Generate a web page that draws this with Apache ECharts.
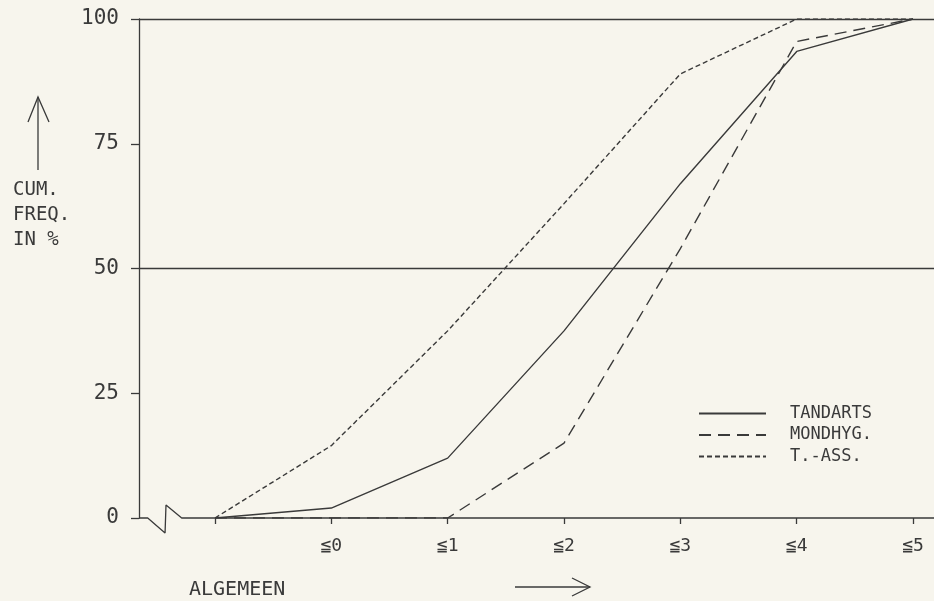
<!DOCTYPE html>
<html>
<head>
<meta charset="utf-8">
<script src="https://cdn.jsdelivr.net/npm/echarts@6/dist/echarts.min.js"></script>
<style>
html,body{margin:0;padding:0;background:#f7f5ed;}
#chart{width:934px;height:601px;}
</style>
</head>
<body>
<div id="chart"></div>
<script>
// Data
const xPositions = [-1, 0, 1, 2, 3, 4, 5];
const tickLabelValues = [0, 1, 2, 3, 4, 5];
const yTicks = [0, 25, 50, 75, 100];
const seriesNames = ['TANDARTS', 'MONDHYG.', 'T.-ASS.'];
const tandarts = [0, 2, 12, 37.5, 67, 93.5, 100];
const mondhyg = [0, 0, 0, 15, 54, 95.5, 100];
const tass = [0, 14.5, 37.5, 63, 89, 100, 100];
// axis break decoration (data units)
const breakX = [-1.653, -1.578, -1.429, -1.421, -1.286, 5.18];
const breakY = [0, 0, -3, 2.6, 0, 0];

const ink = '#3a3a3a';
const font = "'DejaVu Sans Mono', monospace";
const chart = echarts.init(document.getElementById('chart'));

function pairs(xs, ys) { return xs.map((x, i) => [x, ys[i]]); }

const lineBase = (name, data, type) => ({
  name, type: 'line', data: pairs(xPositions, data),
  symbol: 'none', showSymbol: false, smooth: false, silent: true,
  lineStyle: { color: ink, width: 1.4, type },
  itemStyle: { color: ink }
});

chart.setOption({
  backgroundColor: '#f7f5ed',
  animation: false,
  grid: { left: 139, right: 0, top: 19, bottom: 83, containLabel: false },
  xAxis: {
    type: 'value', min: -1.653, max: 5.18,
    axisLine: { show: false, onZero: false },
    splitLine: { show: false },
    axisTick: { show: true, inside: false, length: 6, customValues: xPositions,
      lineStyle: { color: ink, width: 1.3 } },
    axisLabel: { customValues: tickLabelValues, formatter: v => '≦' + v,
      margin: 19, fontFamily: font, fontSize: 18, color: ink }
  },
  yAxis: {
    type: 'value', min: 0, max: 100, interval: 25,
    axisLine: { show: true, onZero: false, lineStyle: { color: ink, width: 1.3 } },
    splitLine: { show: false },
    axisTick: { show: true, length: 8, lineStyle: { color: ink, width: 1.3 } },
    axisLabel: { margin: 20, fontFamily: font, fontSize: 21, color: ink,
      formatter: v => yTicks.includes(v) ? String(v) : '' }
  },
  legend: {
    data: seriesNames, orient: 'vertical', left: 693, top: 400,
    itemWidth: 67, itemHeight: 12, itemGap: 4.5,
    itemStyle: { opacity: 0 },
    textStyle: { fontFamily: font, fontSize: 17, color: ink, padding: [0, 0, 0, 19] }
  },
  series: [
    lineBase(seriesNames[0], tandarts, 'solid'),
    lineBase(seriesNames[1], mondhyg, [12, 7]),
    lineBase(seriesNames[2], tass, [5, 3]),
    {
      name: 'axis', type: 'line', data: pairs(breakX, breakY), symbol: 'none',
      clip: false, silent: true,
      lineStyle: { color: ink, width: 1.3 },
      markLine: {
        silent: true, symbol: 'none', label: { show: false },
        lineStyle: { color: ink, width: 1.3, type: 'solid' },
        data: [{ yAxis: 50 }, { yAxis: 100 }]
      }
    }
  ],
  graphic: [
    { type: 'line', shape: { x1: 38, y1: 170, x2: 38, y2: 97 }, style: { stroke: ink, lineWidth: 1.3 } },
    { type: 'polyline', shape: { points: [[28, 122], [38, 97], [49, 122]] }, style: { stroke: ink, lineWidth: 1.3, fill: null } },
    { type: 'text', left: 13, top: 178, style: { text: 'CUM.\nFREQ.\nIN %', font: "19px 'DejaVu Sans Mono'", fill: ink, lineHeight: 25 } },
    { type: 'text', left: 189, top: 580, style: { text: 'ALGEMEEN', font: "20px 'DejaVu Sans Mono'", fill: ink } },
    { type: 'line', shape: { x1: 515, y1: 587, x2: 590, y2: 587 }, style: { stroke: ink, lineWidth: 1.3 } },
    { type: 'polyline', shape: { points: [[572, 578], [590, 587], [572, 596]] }, style: { stroke: ink, lineWidth: 1.3, fill: null } }
  ]
});
</script>
</body>
</html>
